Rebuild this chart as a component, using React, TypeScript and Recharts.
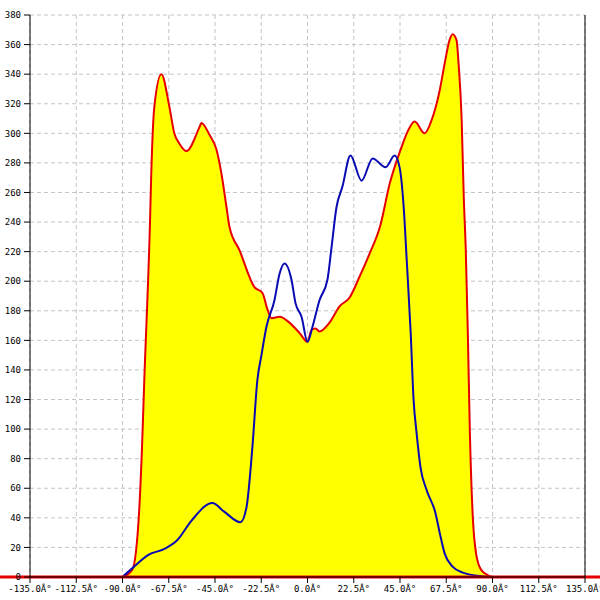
import React from 'react';
import { ComposedChart, Area, Line, XAxis, YAxis, CartesianGrid, ReferenceLine } from 'recharts';

const redAngles = [-90, -85.2, -81.8, -80.5, -79.4, -76.6, -76.0, -74.5, -71.1, -67.2, -64.8, -62.3, -58.9, -52.6, -51.6, -47.7, -44.3, -41.9, -39.4, -38.0, -33.1, -25.8, -21.9, -19.5, -17.5, -13.6, -8.8, -3.9, 0, 1.9, 3.9, 5.8, 10.7, 15.6, 20.5, 25.3, 30, 35.5, 40, 44.8, 49.7, 52.1, 57, 60.4, 64.3, 66.7, 69.1, 70.6, 72.5, 73.5, 75, 76, 77, 78, 79, 80.4, 82, 84.4, 88, 90];
const redValues = [0, 5, 47, 88, 133, 241, 273, 318, 340, 318, 300, 293, 288, 304, 307, 299, 289, 273, 250, 237, 221, 196, 192, 181, 175, 176, 172, 165, 159, 167, 168, 166, 172, 183, 189, 203, 218, 238, 266, 287, 304, 308, 300, 309, 329, 347, 363, 367, 363, 347, 309, 258, 221, 165, 97, 41, 16, 5, 1, 0];

const blueAngles = [-90, -85.2, -77.4, -69.6, -63.3, -56.5, -46.3, -40.4, -32.6, -29.7, -26.8, -24.4, -22.4, -20.0, -16.1, -13.6, -11.2, -7.8, -5.8, -2.9, 0, 2.4, 5.8, 9.7, 11.7, 14.1, 17.0, 20.9, 26.3, 31.7, 38.0, 42.4, 44.8, 46.8, 48.2, 50.2, 51.6, 53.1, 55.0, 57.9, 62.3, 64.3, 66.7, 70.6, 75.5, 85, 90];
const blueValues = [0, 6, 15, 19, 25, 38, 50, 44, 37, 47, 88, 133, 150, 169, 187, 205, 212, 201, 185, 176, 159, 169, 187, 201, 223, 250, 264, 285, 268, 283, 277, 285, 277, 250, 216, 165, 120, 97, 74, 59, 43, 30, 16, 7, 3, 0.5, 0];

const xTicks = [-135, -112.5, -90, -67.5, -45, -22.5, 0, 22.5, 45, 67.5, 90, 112.5, 135];
const yTicks = [0, 20, 40, 60, 80, 100, 120, 140, 160, 180, 200, 220, 240, 260, 280, 300, 320, 340, 360, 380];

const redData = redAngles.map((x, i) => ({ x, v: redValues[i] }));
const blueData = blueAngles.map((x, i) => ({ x, v: blueValues[i] }));

const tickStyle = { fontFamily: '"DejaVu Sans Mono", monospace', fontSize: 9, fill: '#000' };

export default function App() {
  return (
    <div style={{ position: 'absolute', left: 0, top: 0, width: 600, height: 600, background: '#fff' }}>
      <ComposedChart width={600} height={600} margin={{ top: 15, right: 0, bottom: 0, left: 0 }}>
        <CartesianGrid stroke="#c4c4c4" strokeDasharray="4 3" />
        <XAxis
          type="number"
          dataKey="x"
          domain={[-135, 135]}
          ticks={xTicks}
          interval={0}
          height={23}
          tickSize={6}
          tickMargin={3}
          tick={tickStyle}
          stroke="#000"
          tickFormatter={(v: number) => `${v.toFixed(1)}Â°`}
          allowDuplicatedCategory={false}
        />
        <YAxis
          type="number"
          domain={[0, 380]}
          ticks={yTicks}
          interval={0}
          width={30}
          tickSize={6}
          tickMargin={3}
          tick={tickStyle}
          stroke="#000"
        />
        <YAxis
          yAxisId="r"
          orientation="right"
          type="number"
          domain={[0, 380]}
          width={15}
          tick={false}
          tickLine={false}
          stroke="#000"
        />
        <Area
          data={redData}
          dataKey="v"
          type="monotone"
          stroke="#e60000"
          strokeWidth={2}
          fill="#ffff00"
          fillOpacity={1}
          dot={false}
          activeDot={false}
          isAnimationActive={false}
        />
        <Line
          data={blueData}
          dataKey="v"
          type="monotone"
          stroke="#0a0ab4"
          strokeWidth={2}
          dot={false}
          activeDot={false}
          isAnimationActive={false}
        />
        <ReferenceLine
          segment={[{ x: -150, y: 0 }, { x: 150, y: 0 }]}
          stroke="#e60000"
          strokeWidth={3}
          ifOverflow="visible"
        />
      </ComposedChart>
    </div>
  );
}
